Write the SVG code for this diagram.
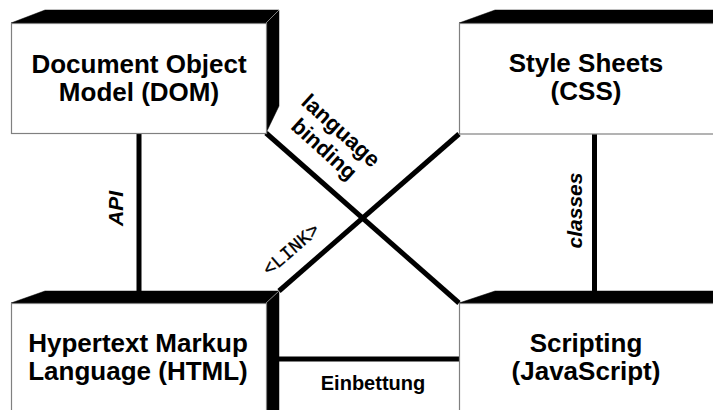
<svg xmlns="http://www.w3.org/2000/svg" width="713" height="410" viewBox="0 0 713 410">
<style>
.band{fill:#000;stroke:#000;stroke-width:0.5}
.face{fill:#fff;stroke:#808080;stroke-width:1.2}
.edge{stroke:#808080;stroke-width:1;fill:none}
.lbl{font-family:"Liberation Sans",Arial,sans-serif;font-weight:bold;font-size:26px;text-anchor:middle;fill:#000}
.conn{stroke:#000;stroke-width:5;fill:none}
.clbl{font-family:"Liberation Sans",Arial,sans-serif;font-weight:bold;fill:#000;text-anchor:middle}
.mono{font-family:"Liberation Mono","Courier New",monospace;fill:#000;text-anchor:middle}
</style>
<rect width="713" height="410" fill="#fff"/>
<g id="connectors">
<line class="conn" x1="139" y1="133" x2="139" y2="292"/>
<line class="conn" x1="594.5" y1="134" x2="594.5" y2="292"/>
<line class="conn" x1="279" y1="359" x2="459" y2="359"/>
<line class="conn" x1="266" y1="133" x2="459" y2="303"/>
<line class="conn" x1="279" y1="291" x2="459" y2="134"/>
<text class="clbl" font-size="21" font-style="italic" transform="translate(123,208.5) rotate(-90)">API</text>
<text class="clbl" font-size="21" font-style="italic" transform="translate(582,210.5) rotate(-90)">classes</text>
<text class="clbl" font-size="20" x="373" y="390">Einbettung</text>
<g transform="translate(336,136) rotate(42)">
<text class="clbl" font-size="22" x="0" y="0">language</text>
<text class="clbl" font-size="22" x="0" y="25">binding</text>
</g>
<text class="mono" font-size="19" stroke="#000" stroke-width="0.3" transform="translate(295,254) rotate(-41)">&lt;LINK&gt;</text>
</g>
<g id="node-dom">
<polygon class="band" points="11,23 45,10 279,10 266,23"/>
<polygon class="band" points="266,23 279,10 279,106 266,133"/>
<line class="edge" x1="266" y1="23" x2="279" y2="10"/>
<rect class="face" x="11.5" y="23.5" width="255" height="110"/>
<text class="lbl" x="139" y="73">Document Object</text>
<text class="lbl" x="139" y="101">Model (DOM)</text>
</g>
<g id="node-css">
<polygon class="band" points="459,23 495,10 714,10 714,23"/>
<rect class="face" x="459.5" y="23.5" width="260" height="110.5"/>
<text class="lbl" x="586" y="72">Style Sheets</text>
<text class="lbl" x="586" y="100">(CSS)</text>
</g>
<g id="node-html">
<polygon class="band" points="11,303 45,291 279,291 266,303"/>
<polygon class="band" points="266,303 279,291 279,412 266,412"/>
<line class="edge" x1="266" y1="303" x2="279" y2="291"/>
<rect class="face" x="11.5" y="303.5" width="255" height="120"/>
<text class="lbl" x="138" y="352">Hypertext Markup</text>
<text class="lbl" x="138" y="380">Language (HTML)</text>
</g>
<g id="node-js">
<polygon class="band" points="459,303 495,291 714,291 714,303"/>
<rect class="face" x="459.5" y="303.5" width="260" height="120"/>
<text class="lbl" x="586" y="352">Scripting</text>
<text class="lbl" x="586" y="380">(JavaScript)</text>
</g>
</svg>
